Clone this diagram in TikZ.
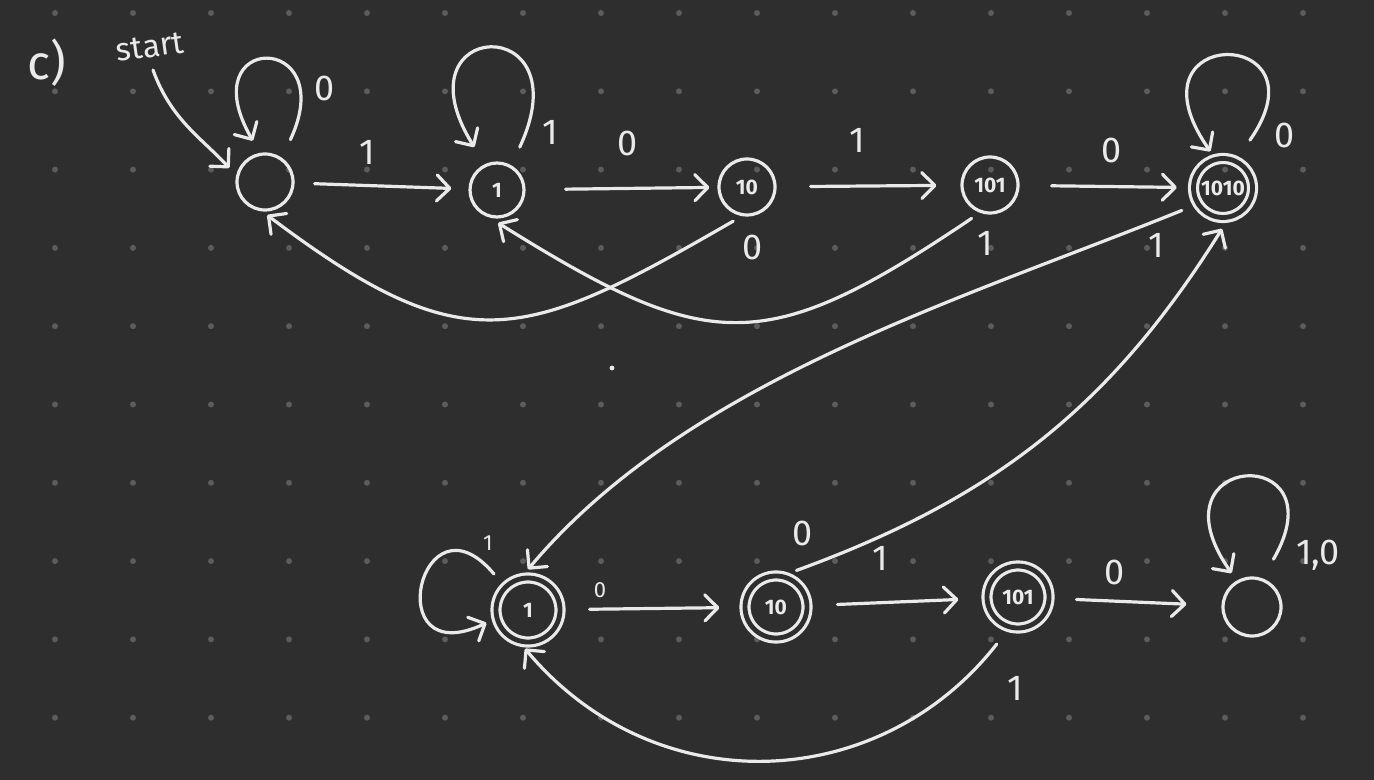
\documentclass[tikz,border=0pt]{standalone}
\usepackage{fontspec}
\setmainfont{Fira Sans}
\usetikzlibrary{arrows.meta,calc}
\definecolor{bgc}{RGB}{46,46,46}
\definecolor{ink}{RGB}{234,234,234}
\definecolor{dotc}{RGB}{92,92,92}
\begin{document}
\begin{tikzpicture}[x=0.5pt,y=-0.5pt,
  state/.style={circle, draw=ink, line width=1.6pt, inner sep=0pt, text=ink,
    font=\fontsize{10.5}{10.5}\selectfont\bfseries},
  acc/.style={state, double=bgc, double distance=2.4pt},
  arr/.style={draw=ink, line width=1.6pt, line cap=round,
    -{Straight Barb[length=6.5pt,width=13pt,round]}},
  lab/.style={text=ink, inner sep=0pt, font=\fontsize{18}{18}\selectfont},
  slab/.style={text=ink, inner sep=0pt, font=\fontsize{11}{11}\selectfont}]
\fill[bgc] (0,0) rectangle (1374,780);
\useasboundingbox (0,0) rectangle (1374,780);
\foreach \i in {0,...,16}{
  \foreach \j in {0,...,9}{
    \fill[dotc] ({55+78*\i},{13+78.3*\j}) circle (1.5pt);
  }
}
\fill[ink] (612,368) circle (1.2pt);

% title and start
\node[text=ink, font=\fontsize{24}{24}\selectfont] (title) at (47,63) {c)};
\node[text=ink, font=\fontsize{16}{16}\selectfont, rotate=8] (startlbl) at (150,47) {start};
\coordinate (s0) at (153,70);

% states
\node[state, minimum size=28pt] (q0) at (265,182) {};
\node[state, minimum size=27pt] (q1) at (497,190) {1};
\node[state, minimum size=28pt] (q2) at (747,187) {10};
\node[state, minimum size=28pt] (q3) at (990,185) {101};
\node[acc, minimum size=29.5pt] (q4) at (1223,188) {1010};
\node[acc, minimum size=32pt] (q5) at (528,610) {1};
\node[acc, minimum size=31pt] (q6) at (776,607) {10};
\node[acc, minimum size=31pt] (q7) at (1018,597) {101};
\node[state, minimum size=29pt] (q8) at (1252,607) {};

% start arrow
\draw[arr, shorten >=5pt] (s0) to[out=-70, in=133] (q0.167);

% self loops
\draw[arr, shorten <=10pt, shorten >=7pt] (q0.55) to[out=65, in=120, min distance=70pt] (q0.100);
\draw[arr, shorten <=10pt, shorten >=10pt] (q1.60) to[out=65, in=122, min distance=86pt] (q1.115);
\draw[arr, shorten <=12pt, shorten >=4pt] (q4.65) to[out=55, in=125, min distance=82pt] (q4.105);
\draw[arr, shorten <=11pt, shorten >=4.5pt] (q8.70) to[out=60, in=125, min distance=79pt] (q8.120);
\draw[arr, shorten <=8pt, shorten >=5pt] (q5.135) to[out=130, in=-155, min distance=65pt] (q5.-165);

% top row transitions
\draw[arr, shorten <=10pt, shorten >=8.5pt] (q0) -- (q1);
\draw[arr, shorten <=20pt, shorten >=4pt] (q1) -- (q2);
\draw[arr, shorten <=17pt, shorten >=12pt] (q2) -- (q3);
\draw[arr, shorten <=16pt, shorten >=7.5pt] (q3) -- (q4);

% back edges top
\draw[arr, shorten <=5pt, shorten >=3pt] (q2.-100) to[out=-150, in=-37, looseness=1.35] (q0.-95);
\draw[arr, shorten <=5pt, shorten >=5pt] (q3.-110) to[out=-146, in=-32, looseness=1.35] (q1.-105);

% between rows
\draw[arr, shorten <=8pt, shorten >=5pt] (q4.-148) to[out=-158, in=50, looseness=0.85] (q5.101);
\draw[arr, shorten <=7pt, shorten >=6pt] (q6.77) to[out=20, in=-122, looseness=1] (q4.-80);

% bottom row transitions
\draw[arr, shorten <=14pt, shorten >=12pt] (q5) -- (q6);
\draw[arr, shorten <=14.5pt, shorten >=13.5pt] (q6) -- (q7);
\draw[arr, shorten <=13pt, shorten >=17.5pt] (q7) -- (q8);
\draw[arr, shorten <=10pt, shorten >=4pt] (q7.-106) to[out=-128, in=-50, looseness=1.1] (q5.-104);

% labels
\node[lab] (l00) at (325,88) {0};
\node[lab] (l01) at (367,152) {1};
\node[lab] (l11) at (550,132) {1};
\node[lab] (l12) at (628,143) {0};
\node[lab] (l23) at (857,140) {1};
\node[lab] (l34) at (1112,150) {0};
\node[lab] (l44) at (1285,135) {0};
\node[lab] (l20) at (753,247) {0};
\node[lab] (l31) at (985,243) {1};
\node[lab] (l45) at (1156,245) {1};
\node[lab] (l64) at (803,533) {0};
\node[slab] (l55) at (488,543) {1};
\node[slab] (l56) at (600,590) {0};
\node[lab] (l67) at (880,558) {1};
\node[lab] (l78) at (1115,572) {0};
\node[lab] (l88) at (1318,555) {1,0};
\node[lab] (l75) at (1015,688) {1};
\end{tikzpicture}
\end{document}
